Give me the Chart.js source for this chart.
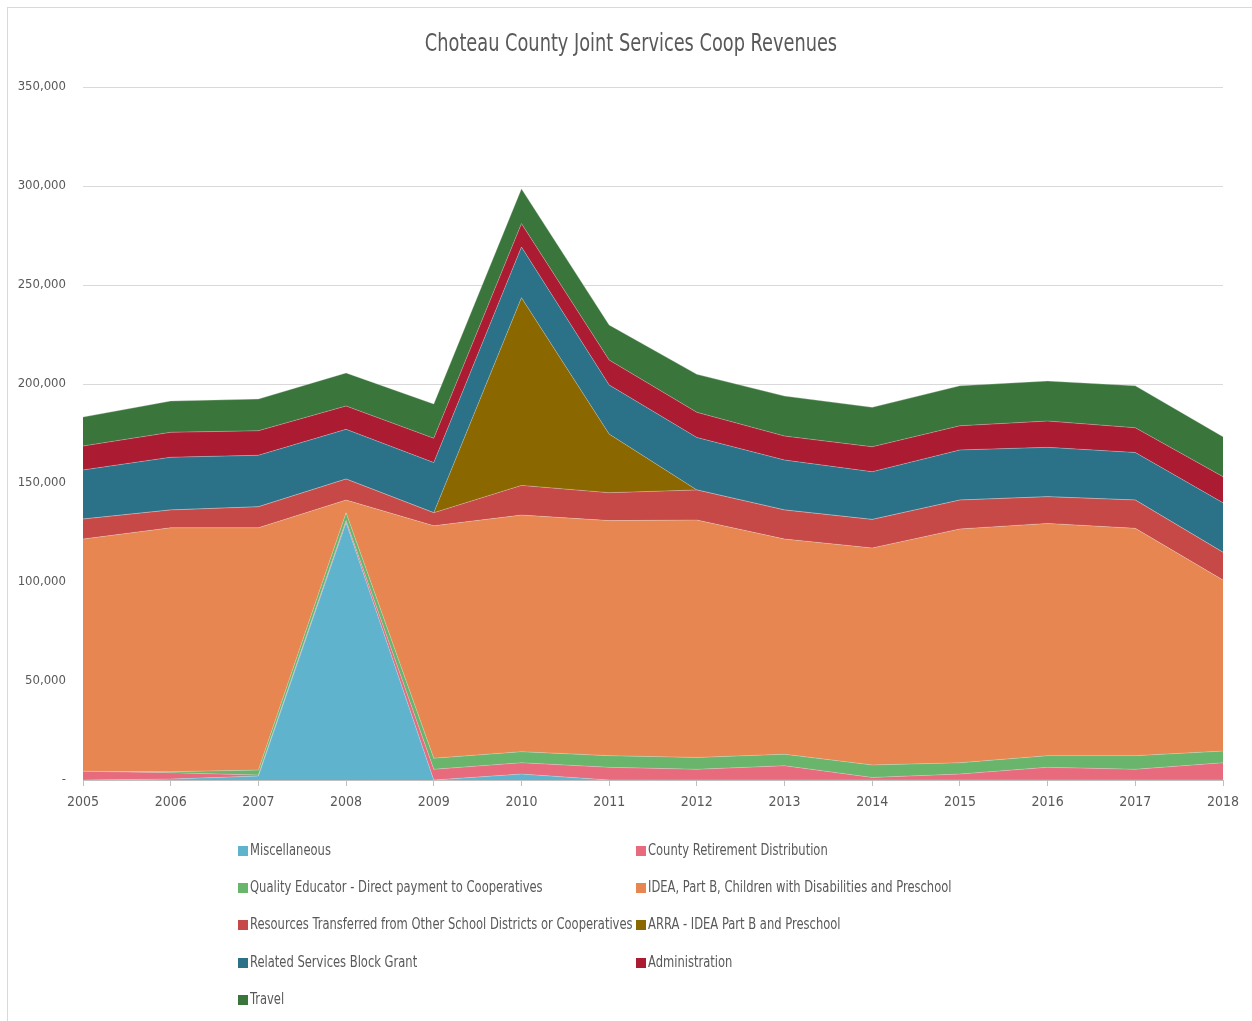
<!DOCTYPE html>
<html>
<head>
<meta charset="utf-8">
<script src="https://cdn.jsdelivr.net/npm/chart.js@4.4.1/dist/chart.umd.min.js"></script>
<style>
  body { margin: 0; background: #fff; }
  #frame { position: absolute; left: 7px; top: 7px; width: 1260px; height: 1030px; border: 1px solid #d9d9d9; }
  #wrap { position: absolute; left: 0; top: 0; width: 1252px; height: 1021px; }
  #title { position: absolute; left: 0; top: 28px; width: 1262px; text-align: center; font-family: "DejaVu Sans Condensed", sans-serif; font-size: 25px; color: #595959; transform: scaleX(0.79); transform-origin: 631px 0; white-space: nowrap; }
  #legend { position: absolute; left: 238px; top: 840px; width: 800px; font-family: "DejaVu Sans Condensed", sans-serif; font-size: 15px; color: #595959; }
  .item { position: absolute; white-space: nowrap; height: 20px; line-height: 20px; }
  .item span.box { display: inline-block; width: 10px; height: 10px; margin-right: 2px; vertical-align: -1px; }
  .item span.txt { display: inline-block; transform: scaleX(0.855); transform-origin: 0 0; }
</style>
</head>
<body>
<div id="frame"></div>
<div id="wrap"><canvas id="area-chart" width="1252" height="1021"></canvas></div>
<div id="title">Choteau County Joint Services Coop Revenues</div>
<div id="legend"></div>
<script>
var years = ["2005","2006","2007","2008","2009","2010","2011","2012","2013","2014","2015","2016","2017","2018"];

var miscellaneous   = [0, 500, 2000, 130000, 0, 3000, 0, 0, 0, 0, 0, 0, 0, 0];
var countyRetire    = [4400, 3200, 500, 1000, 5400, 5700, 6400, 5400, 7200, 1300, 3000, 6400, 5400, 8700];
var qualityEducator = [0, 500, 2500, 4000, 5600, 5600, 5900, 6000, 5800, 6300, 5700, 5900, 6900, 5900];
var ideaPartB       = [117300, 123200, 122400, 6400, 117400, 119500, 118700, 119900, 108700, 109600, 118100, 117300, 114800, 86400];
var resources       = [10100, 9000, 10600, 10600, 6600, 15000, 14100, 15200, 14700, 14400, 14600, 13500, 14300, 14000];
var arra            = [0, 0, 0, 0, 0, 94800, 29600, 0, 0, 0, 0, 0, 0, 0];
var relatedServices = [24800, 26600, 26000, 25100, 25300, 25600, 24800, 26500, 25200, 24100, 25300, 24900, 24000, 25000];
var administration  = [12100, 12600, 12400, 11800, 12300, 11800, 12600, 12700, 12100, 12600, 12200, 13300, 12500, 13200];
var travel          = [14600, 15800, 16000, 16700, 17300, 17600, 17700, 19200, 20200, 19900, 20200, 20200, 21200, 20200];

var yTicks = [0, 50000, 100000, 150000, 200000, 250000, 300000, 350000];

var font = "'DejaVu Sans Condensed', sans-serif";

function area(label, data, color, first) {
  return {
    label: label,
    data: data,
    backgroundColor: color,
    borderColor: 'rgba(230,230,230,0.5)',
    borderWidth: 0.6,
    pointRadius: 0,
    tension: 0,
    fill: first ? 'origin' : '-1'
  };
}

var chart = new Chart(document.getElementById("area-chart"), {
  type: 'line',
  data: {
    labels: years,
    datasets: [
      area("Miscellaneous", miscellaneous, "#5fb3cd", true),
      area("County Retirement Distribution", countyRetire, "#e76a7d"),
      area("Quality Educator  - Direct payment to Cooperatives", qualityEducator, "#69b56c"),
      area("IDEA, Part B, Children with Disabilities and Preschool", ideaPartB, "#e88651"),
      area("Resources Transferred from Other School Districts or Cooperatives", resources, "#c64947"),
      area("ARRA - IDEA Part B and Preschool", arra, "#8b6700"),
      area("Related Services Block Grant", relatedServices, "#2b7288"),
      area("Administration", administration, "#ab1c33"),
      area("Travel", travel, "#3a763b")
    ]
  },
  options: {
    responsive: false,
    animation: false,
    layout: { padding: { left: 0, right: 29, top: 87, bottom: 201 } },
    plugins: {
      legend: { display: false },
      tooltip: { enabled: false },
      title: { display: false }
    },
    scales: {
      x: {
        grid: { drawOnChartArea: false, drawTicks: true, tickLength: 6, color: '#bfbfbf' },
        border: { display: true, color: '#bfbfbf', width: 1 },
        ticks: { color: '#595959', font: { family: font, size: 14 }, padding: 8, maxRotation: 0 },
        afterFit: function (s) { s.height = 40; }
      },
      y: {
        stacked: true,
        min: 0,
        max: 350000,
        afterBuildTicks: function (s) { s.ticks = yTicks.map(function (v) { return { value: v }; }); },
        grid: { color: '#d9d9d9', drawTicks: false },
        border: { display: false },
        ticks: {
          color: '#595959',
          font: { family: font, size: 13 },
          padding: 17,
          callback: function (v) { return v === 0 ? '-' : v.toLocaleString('en-US'); }
        },
        afterFit: function (s) { s.width = 83; }
      }
    }
  }
});

// two-column legend under the plot
var legend = document.getElementById("legend");
chart.data.datasets.forEach(function (ds, i) {
  var div = document.createElement("div");
  div.className = "item";
  div.style.left = (i % 2 === 0 ? 0 : 398) + "px";
  div.style.top = (Math.floor(i / 2) * 37.2) + "px";
  div.innerHTML = '<span class="box" style="background:' + ds.backgroundColor + '"></span><span class="txt">' + ds.label + '</span>';
  legend.appendChild(div);
});
</script>
</body>
</html>
